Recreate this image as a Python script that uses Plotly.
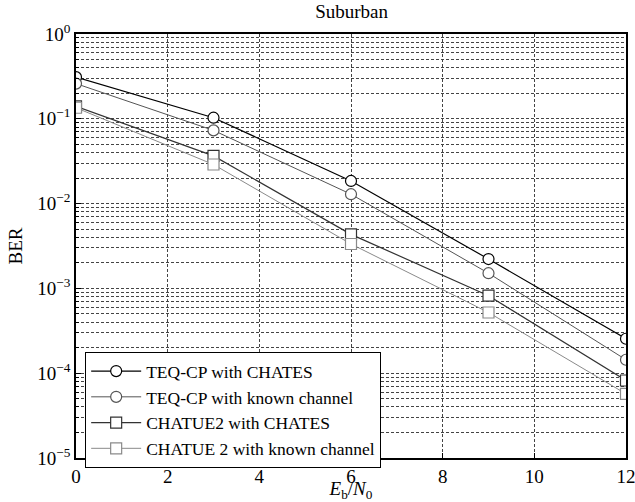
import plotly.graph_objects as go

ebn0 = [0, 3, 6, 9, 12]
teq_chates = [0.31, 0.103, 0.0185, 0.00222, 2.55e-4]
teq_known = [0.26, 0.073, 0.0129, 0.00151, 1.44e-4]
chatue_chates = [0.14, 0.0365, 0.00434, 8.2e-4, 8.2e-5]
chatue_known = [0.135, 0.0289, 0.00334, 5.2e-4, 5.7e-5]

names = ["TEQ-CP with CHATES", "TEQ-CP with known channel",
         "CHATUE2 with CHATES", "CHATUE 2 with known channel"]
series = [teq_chates, teq_known, chatue_chates, chatue_known]
symbols = ["circle", "circle", "square", "square"]
colors = ["#000000", "#555555", "#333333", "#8a8a8a"]
widths = [1.2, 1.0, 1.2, 1.0]

ytickvals = [1, 0.1, 0.01, 0.001, 1e-4, 1e-5]
yticktext = ["10<sup>0</sup>", "10<sup>−1</sup>", "10<sup>−2</sup>",
             "10<sup>−3</sup>", "10<sup>−4</sup>", "10<sup>−5</sup>"]

fig = go.Figure()
for name, ys, sym, col, w in zip(names, series, symbols, colors, widths):
    fig.add_trace(go.Scatter(
        x=ebn0, y=ys, name=name, mode="lines+markers",
        line=dict(color=col, width=w),
        marker=dict(symbol=sym, size=11, color="white",
                    line=dict(color=col, width=1.2)),
    ))

font = "Liberation Serif, Times New Roman, serif"
grid = dict(showgrid=True, gridcolor="#444444", griddash="3px,2px", gridwidth=0.7)
fig.update_layout(
    width=635, height=502,
    margin=dict(l=76, r=9, t=34, b=44),
    paper_bgcolor="white", plot_bgcolor="white",
    font=dict(family=font, size=19, color="black"),
    title=dict(text="Suburban", x=0.5537, xanchor="center", y=0.99, yanchor="top",
               font=dict(family=font, size=19, color="black")),
    showlegend=True,
    legend=dict(x=0.0163, y=0.25, xanchor="left", yanchor="top",
                bgcolor="white", bordercolor="black", borderwidth=1.2,
                font=dict(family=font, size=17.5, color="black"),
                itemwidth=50, tracegroupgap=0),
)
fig.update_xaxes(
    range=[0, 12], tickvals=[0, 2, 4, 6, 8, 10, 12], automargin=False,
    ticklabeloverflow="allow",
    showline=True, linecolor="black", linewidth=1.5, mirror=True,
    ticks="inside", ticklen=5, tickcolor="black",
    zeroline=False,
    title=dict(text="<i>E</i><sub>b</sub>/<i>N</i><sub>0</sub>", standoff=3,
               font=dict(family=font, size=19)),
    tickfont=dict(family=font, size=19),
    **grid,
)
fig.update_yaxes(
    type="log", range=[-5, 0], tickvals=ytickvals, ticktext=yticktext,
    automargin=False, ticklabeloverflow="allow",
    showline=True, linecolor="black", linewidth=1.5, mirror=True,
    ticks="inside", ticklen=5, tickcolor="black",
    minor=dict(dtick="D1", ticks="inside", ticklen=3, tickcolor="black", **grid),
    zeroline=False,
    title=dict(text="BER", standoff=10, font=dict(family=font, size=19)),
    tickfont=dict(family=font, size=19),
    **grid,
)

fig.write_html("out.html", config={"displayModeBar": False},
               post_script="document.body.style.margin='0';document.body.style.overflow='hidden';")
